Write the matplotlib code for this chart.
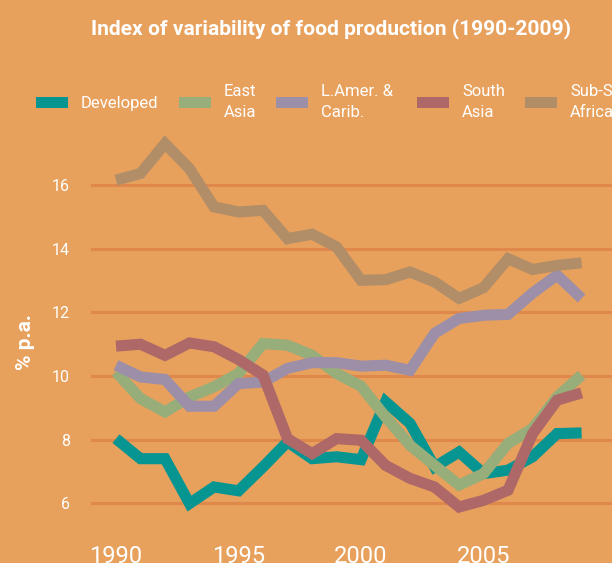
import matplotlib
matplotlib.use("Agg")
import matplotlib.pyplot as plt
from matplotlib.patches import Patch
from matplotlib import font_manager as fm

years = list(range(1990, 2010))
developed = [8.03, 7.40, 7.40, 5.99, 6.51, 6.39, 7.14, 7.93, 7.40, 7.46,
             7.37, 9.19, 8.51, 7.14, 7.61, 6.93, 7.04, 7.46, 8.19, 8.21]
east_asia = [10.13, 9.29, 8.87, 9.34, 9.66, 10.08, 11.02, 10.97, 10.65, 10.08,
             9.68, 8.71, 7.82, 7.19, 6.57, 6.93, 7.88, 8.35, 9.34, 10.03]
lamer = [10.34, 9.97, 9.89, 9.05, 9.05, 9.76, 9.81, 10.24, 10.42, 10.42,
         10.31, 10.34, 10.18, 11.34, 11.81, 11.91, 11.94, 12.61, 13.17, 12.44]
south_asia = [10.94, 11.00, 10.65, 11.04, 10.92, 10.52, 10.03, 8.03, 7.56, 8.03,
              7.98, 7.19, 6.78, 6.51, 5.88, 6.09, 6.41, 8.19, 9.24, 9.47]
sub_sahara = [16.16, 16.37, 17.31, 16.52, 15.32, 15.16, 15.21, 14.32, 14.46, 14.06,
              13.01, 13.03, 13.27, 12.96, 12.44, 12.78, 13.69, 13.35, 13.48, 13.56]

labels = ["Developed", "East\nAsia", "L.Amer. & \nCarib.", "South\nAsia", "Sub-Saharan\nAfrica"]
series = [developed, east_asia, lamer, south_asia, sub_sahara]
colors = ["#079592", "#97AD7A", "#9D8FA8", "#AE6867", "#B18E67"]

xticks = [1990, 1995, 2000, 2005]
yticks = [6, 8, 10, 12, 14, 16]
title = "Index of variability of food production (1990-2009)"

BG = "#E8A15D"
GRID = "#E0884C"

available = {f.name for f in fm.fontManager.ttflist}
narrow = "Liberation Sans Narrow" if "Liberation Sans Narrow" in available else "Roboto"

plt.rcParams['font.family'] = ['Roboto', 'DejaVu Sans']

fig = plt.figure(figsize=(6.12, 5.63), dpi=100, facecolor=BG)
ax = fig.add_axes([91/612, 1 - 535/563, 1 - 91/612, (535 - 128)/563])
ax.set_facecolor(BG)

for vals, c in zip(series, colors):
    ax.plot(years, vals, color=c, lw=8, solid_joinstyle='miter', solid_capstyle='butt', zorder=3)

ax.set_xlim(1988.98, 2010.24)
ax.set_ylim(5.0, 17.8)
ax.set_xticks(xticks)
ax.set_yticks(yticks)
ax.yaxis.grid(True, color=GRID, lw=2.2)
ax.set_axisbelow(True)
for s in ax.spines.values():
    s.set_visible(False)
ax.tick_params(axis='both', length=0, colors='white')
ax.tick_params(axis='y', labelsize=11.5, pad=15)
ax.tick_params(axis='x', labelsize=17, pad=7)
ax.set_ylabel("% p.a.", color='white', fontsize=15, fontweight='bold')
ax.yaxis.set_label_coords(-0.107, 0.475)

t = fig.text(331/612, 1 - 29/563, title, color='white', fontsize=20,
             fontweight='bold', ha='center', va='center', family=[narrow, 'DejaVu Sans'])
fig.canvas.draw()
w = t.get_window_extent().width
t.set_fontsize(20 * 478 / w)

handles = [Patch(facecolor=c, edgecolor='none') for c in colors]
leg = fig.legend(handles, labels, ncol=5, loc='center left',
                 bbox_to_anchor=(36/612, 1 - 102/563), frameon=False,
                 fontsize=12, labelcolor='white', handlelength=1.92, handleheight=0.66,
                 handletextpad=0.78, columnspacing=1.2, borderaxespad=0, borderpad=0)
for txt in leg.get_texts():
    txt.set_linespacing(1.45)

fig.savefig("out.png", dpi=100, facecolor=BG)
